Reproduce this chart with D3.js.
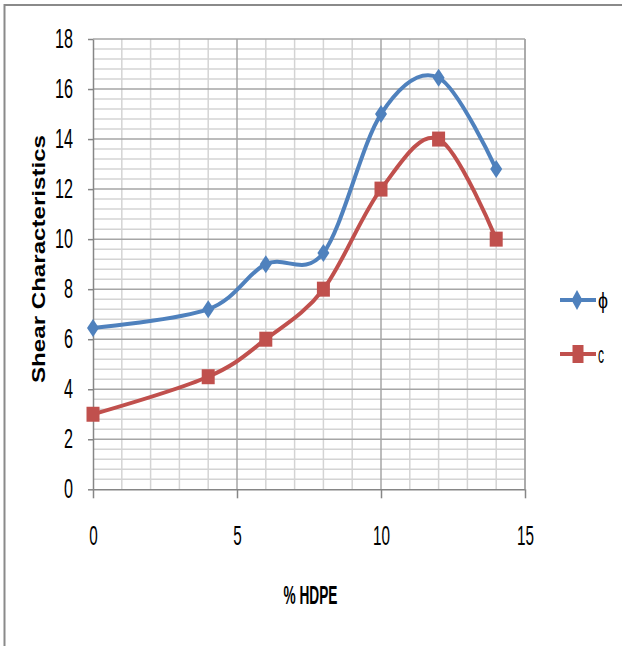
<!DOCTYPE html>
<html>
<head>
<meta charset="utf-8">
<script src="https://cdn.jsdelivr.net/npm/d3@7"></script>
<style>
  html, body { margin: 0; padding: 0; background: #fff; }
  svg { display: block; }
  text { font-family: "Liberation Sans", Arial, sans-serif; fill: #000; }
</style>
</head>
<body>
<svg id="chart" width="622" height="646"></svg>
<script>
// % HDPE content and the two shear parameters
const hdpe = [0, 4, 6, 8, 10, 12, 14];
const phiValues = [6.45, 7.2, 9.0, 9.45, 15.0, 16.45, 12.8];
const cValues = [3.0, 4.5, 6.0, 8.0, 12.0, 14.0, 10.0];

const seriesNames = ["\u03D5", "c"];
const seriesColors = ["#4F81BD", "#C0504D"];

const yMajorTicks = [0, 2, 4, 6, 8, 10, 12, 14, 16, 18];
const xMajorTicks = [0, 5, 10, 15];

const xLabel = "% HDPE";
const yLabel = "Shear Characteristics";

const svg = d3.select("#chart");

// outer chart frame (top and left edges)
svg.append("path")
  .attr("d", "M4.5,646 V5 H622")
  .attr("fill", "none")
  .attr("stroke", "#8a8a8a")
  .attr("stroke-width", 2);

const x = d3.scaleLinear().domain([0, 15]).range([93, 525]);
const y = d3.scaleLinear().domain([0, 18]).range([489.3, 39]);

const grid = svg.append("g");

// minor horizontal grid every 0.4
const yMinor = d3.range(0, 46).map(i => +(i * 0.4).toFixed(1)).filter(v => v % 2 !== 0);
grid.selectAll("line.hmin").data(yMinor).join("line")
  .attr("x1", x(0)).attr("x2", x(15))
  .attr("y1", d => y(d)).attr("y2", d => y(d))
  .attr("stroke", "#d4d4d4").attr("stroke-width", 1.5);

// minor vertical grid every 1
const xMinor = d3.range(1, 15).filter(v => v % 5 !== 0);
grid.selectAll("line.vmin").data(xMinor).join("line")
  .attr("x1", d => x(d)).attr("x2", d => x(d))
  .attr("y1", y(0)).attr("y2", y(18))
  .attr("stroke", "#d4d4d4").attr("stroke-width", 1.5);

// major grid
grid.selectAll("line.hmaj").data(yMajorTicks.filter(v => v > 0)).join("line")
  .attr("x1", x(0)).attr("x2", x(15))
  .attr("y1", d => y(d)).attr("y2", d => y(d))
  .attr("stroke", "#a6a6a6").attr("stroke-width", 1.5);
grid.selectAll("line.vmaj").data(xMajorTicks.filter(v => v > 0)).join("line")
  .attr("x1", d => x(d)).attr("x2", d => x(d))
  .attr("y1", y(0)).attr("y2", y(18))
  .attr("stroke", "#a6a6a6").attr("stroke-width", 1.5);

// y axis
const yAxis = svg.append("g")
  .attr("transform", `translate(${x(0)},0)`)
  .call(d3.axisLeft(y).tickValues(yMajorTicks).tickSize(5).tickSizeOuter(0).tickPadding(15).tickFormat(d3.format("d")));
yAxis.select(".domain").attr("stroke", "#868686").attr("stroke-width", 1.5);
yAxis.selectAll(".tick line").attr("stroke", "#868686").attr("stroke-width", 1.5);
yAxis.selectAll(".tick text")
  .attr("font-size", 27)
  .attr("font-family", "Liberation Sans, Arial, sans-serif")
  .attr("fill", "#000")
  .attr("dy", "0.3em")
  .each(function(d) {
    const s = String(d);
    d3.select(this).attr("textLength", 9 * s.length).attr("lengthAdjust", "spacingAndGlyphs");
  });

// x axis
const xAxis = svg.append("g")
  .attr("transform", `translate(0,${y(0)})`)
  .call(d3.axisBottom(x).tickValues(xMajorTicks).tickSize(9).tickSizeOuter(0).tickFormat(d3.format("d")));
xAxis.select(".domain").attr("stroke", "#868686").attr("stroke-width", 1.5);
xAxis.selectAll(".tick line").attr("stroke", "#868686").attr("stroke-width", 1.5);
xAxis.selectAll(".tick text")
  .attr("font-size", 27)
  .attr("font-family", "Liberation Sans, Arial, sans-serif")
  .attr("fill", "#000")
  .attr("y", 545 - y(0))
  .attr("dy", 0)
  .each(function(d) {
    const s = String(d);
    d3.select(this).attr("textLength", 8.5 * s.length).attr("lengthAdjust", "spacingAndGlyphs");
  });

// right edge of the plot area
svg.append("line")
  .attr("x1", x(15)).attr("x2", x(15))
  .attr("y1", y(18)).attr("y2", y(0))
  .attr("stroke", "#a6a6a6").attr("stroke-width", 1.5);

// axis titles
svg.append("text")
  .attr("x", 310.5).attr("y", 604)
  .attr("text-anchor", "middle")
  .attr("font-size", 26).attr("font-weight", "bold")
  .attr("textLength", 54).attr("lengthAdjust", "spacingAndGlyphs")
  .text(xLabel);

svg.append("text")
  .attr("transform", "translate(45,259) rotate(-90)")
  .attr("text-anchor", "middle")
  .attr("font-size", 19).attr("font-weight", "bold")
  .attr("textLength", 248).attr("lengthAdjust", "spacingAndGlyphs")
  .text(yLabel);

// series
const series = [phiValues, cValues];
const line = d3.line()
  .x((d, i) => x(hdpe[i]))
  .y(d => y(d))
  .curve(d3.curveCardinal.tension(0));

const diamond = (w, h) => `M0,${-h / 2}L${w / 2},0L0,${h / 2}L${-w / 2},0Z`;
const square = (w, h) => `M${-w / 2},${-h / 2}H${w / 2}V${h / 2}H${-w / 2}Z`;

series.forEach((vals, si) => {
  const g = svg.append("g");
  g.append("path")
    .datum(vals)
    .attr("d", line)
    .attr("fill", "none")
    .attr("stroke", seriesColors[si])
    .attr("stroke-width", 4)
    .attr("stroke-linejoin", "round");
  g.selectAll("path.m").data(vals).join("path")
    .attr("class", "m")
    .attr("transform", (d, i) => `translate(${x(hdpe[i])},${y(d)})`)
    .attr("d", si === 0 ? diamond(12, 18) : square(13, 15))
    .attr("fill", seriesColors[si]);
});

// legend
const legendY = [300, 354];
seriesNames.forEach((name, si) => {
  const g = svg.append("g").attr("transform", `translate(0,${legendY[si]})`);
  g.append("line").attr("x1", 560).attr("x2", 596).attr("y1", 0).attr("y2", 0)
    .attr("stroke", seriesColors[si]).attr("stroke-width", 4);
  g.append("path")
    .attr("transform", `translate(${si === 0 ? 577 : 578},0)`)
    .attr("d", si === 0 ? diamond(11, 20) : square(11, 18))
    .attr("fill", seriesColors[si]);
  g.append("text")
    .attr("x", 598)
    .attr("y", si === 0 ? 8 : 9)
    .attr("font-size", si === 0 ? 22 : 24)
    .attr("textLength", si === 0 ? 10 : 6).attr("lengthAdjust", "spacingAndGlyphs")
    .text(name);
});
</script>
</body>
</html>
